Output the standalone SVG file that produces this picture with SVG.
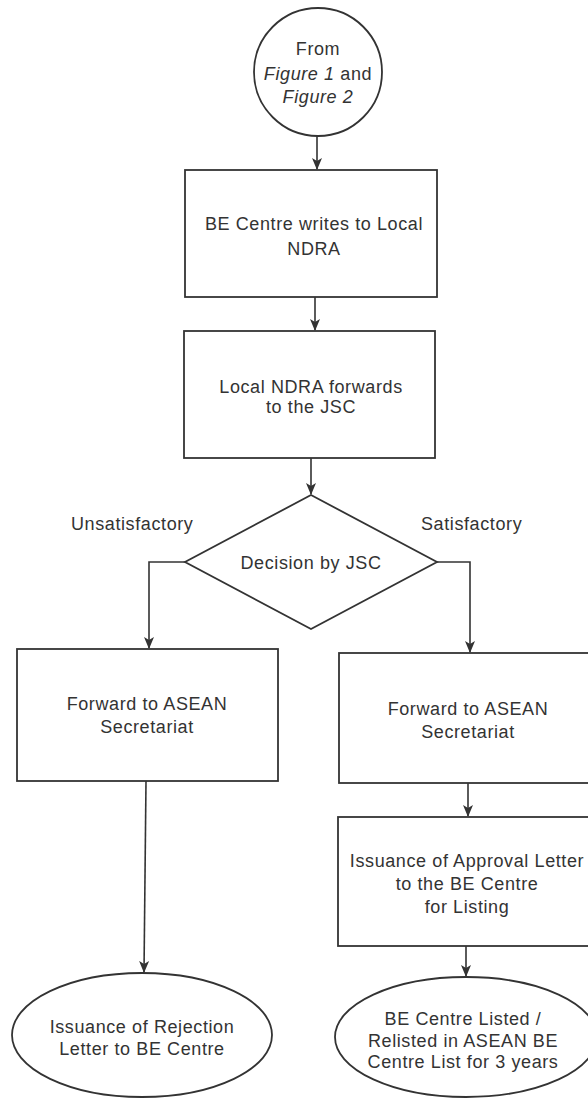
<svg xmlns="http://www.w3.org/2000/svg" width="588" height="1099" viewBox="0 0 588 1099">
<style>
.shape{fill:#fff;stroke:#333;stroke-width:1.8}
.t{font-family:"Liberation Sans",Arial,sans-serif;font-size:18px;fill:#333;text-anchor:middle;letter-spacing:0.6px}
.lbl{font-family:"Liberation Sans",Arial,sans-serif;font-size:18px;fill:#333;letter-spacing:0.6px}
.c{fill:none;stroke:#333;stroke-width:1.6}
</style>
<defs>
<marker id="ah" viewBox="0 0 12 12" refX="11" refY="6" markerWidth="12" markerHeight="12" markerUnits="userSpaceOnUse" orient="auto">
<path d="M0,1 L12,6 L0,11 L3,6 z" fill="#333"/>
</marker>
</defs>
<rect width="588" height="1099" fill="#fff"/>
<g id="connectors">
<line class="c" x1="317" y1="136" x2="317" y2="169" marker-end="url(#ah)"/>
<line class="c" x1="315" y1="297" x2="315" y2="330" marker-end="url(#ah)"/>
<line class="c" x1="311" y1="458" x2="311" y2="494" marker-end="url(#ah)"/>
<polyline class="c" points="185,562 149,562 149,648" marker-end="url(#ah)"/>
<polyline class="c" points="437,562 470,562 470,652" marker-end="url(#ah)"/>
<line class="c" x1="146" y1="781" x2="144" y2="972" marker-end="url(#ah)"/>
<line class="c" x1="468" y1="783" x2="468" y2="816" marker-end="url(#ah)"/>
<line class="c" x1="466" y1="946" x2="466" y2="976" marker-end="url(#ah)"/>
</g>
<g id="start">
<circle class="shape" cx="318" cy="72" r="64"/>
<text class="t" x="318" y="55">From</text>
<text class="t" x="318" y="80"><tspan font-style="italic">Figure 1</tspan> and</text>
<text class="t" x="318" y="103" font-style="italic">Figure 2</text>
</g>
<g id="box1">
<rect class="shape" x="185" y="170" width="252" height="127"/>
<text class="t" x="314" y="230">BE Centre writes to Local</text>
<text class="t" x="314" y="255">NDRA</text>
</g>
<g id="box2">
<rect class="shape" x="184" y="331" width="251" height="127"/>
<text class="t" x="311" y="393">Local NDRA forwards</text>
<text class="t" x="311" y="413">to the JSC</text>
</g>
<g id="decision">
<polygon class="shape" points="311,495 437,562 311,629 185,562"/>
<text class="t" x="311" y="569">Decision by JSC</text>
</g>
<g id="labels">
<text class="lbl" x="71" y="530">Unsatisfactory</text>
<text class="lbl" x="421" y="530">Satisfactory</text>
</g>
<g id="fwdLeft">
<rect class="shape" x="17" y="649" width="261" height="132"/>
<text class="t" x="147" y="710">Forward to ASEAN</text>
<text class="t" x="147" y="733">Secretariat</text>
</g>
<g id="fwdRight">
<rect class="shape" x="339" y="653" width="252" height="130"/>
<text class="t" x="468" y="715">Forward to ASEAN</text>
<text class="t" x="468" y="738">Secretariat</text>
</g>
<g id="approval">
<rect class="shape" x="338" y="817" width="253" height="129"/>
<text class="t" x="467" y="867">Issuance of Approval Letter</text>
<text class="t" x="467" y="890">to the BE Centre</text>
<text class="t" x="467" y="913">for Listing</text>
</g>
<g id="rejection">
<ellipse class="shape" cx="142" cy="1035" rx="130" ry="62"/>
<text class="t" x="142" y="1033">Issuance of Rejection</text>
<text class="t" x="142" y="1055">Letter to BE Centre</text>
</g>
<g id="listed">
<ellipse class="shape" cx="466" cy="1037" rx="131" ry="60"/>
<text class="t" x="463" y="1025">BE Centre Listed /</text>
<text class="t" x="463" y="1047">Relisted in ASEAN BE</text>
<text class="t" x="463" y="1068">Centre List for 3 years</text>
</g>
</svg>
